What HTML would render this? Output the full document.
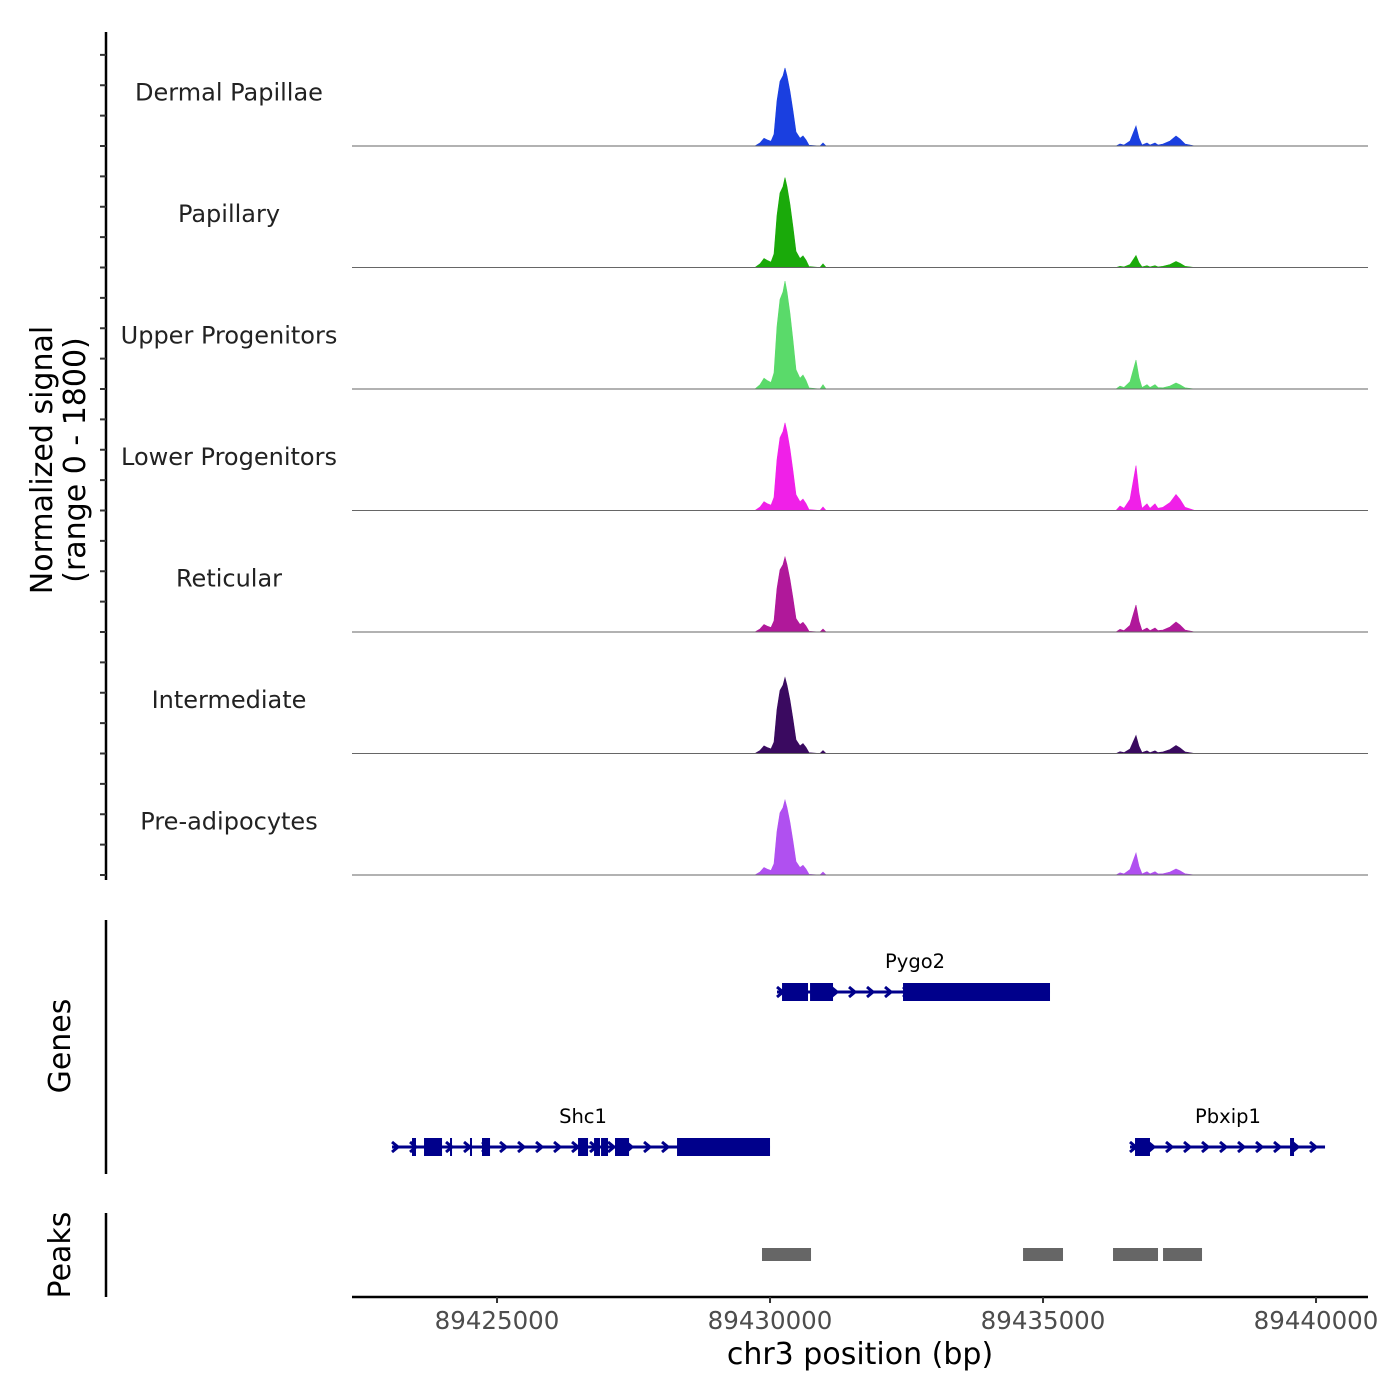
<!DOCTYPE html>
<html><head><meta charset="utf-8"><style>
body{margin:0;background:#fff}
svg{display:block;font-family:"DejaVu Sans","Liberation Sans",sans-serif}
</style></head><body>
<svg id="chart" width="1400" height="1400" viewBox="0 0 1400 1400" xmlns="http://www.w3.org/2000/svg"></svg>
<script>
// ---- data ----
const trackNames = ["Dermal Papillae","Papillary","Upper Progenitors","Lower Progenitors","Reticular","Intermediate","Pre-adipocytes"];
const trackColors = ["#1a3fe0","#1aaa0a","#5ada6a","#f020e8","#b0189a","#3a0a60","#b050f0"];
const mainAmp = [1155,1332,1600,1300,1110,1125,1110];
const sec1Amp = [296,178,430,666,400,266,326];
const sec2Amp = [148,89,89,237,148,118,89];
const mainPos = [89429725,89429817,89429890,89429945,89430018,89430073,89430128,89430183,89430238,89430275,89430311,89430366,89430421,89430476,89430549,89430604,89430659,89430714,89430916,89430971,89431026];
const mainShape = [0,0.04,0.1,0.08,0.06,0.15,0.58,0.83,0.9,1,0.9,0.7,0.45,0.18,0.1,0.13,0.08,0.01,0,0.04,0];
const secPos = [89436337,89436410,89436484,89436593,89436667,89436703,89436758,89436813,89436905,89436960,89437051,89437106,89437198,89437326,89437436,89437509,89437601,89437784];
const sec1Shape = [0,0.1,0.05,0.25,0.75,1,0.4,0.05,0.15,0.05,0.15,0.05,0,0,0,0,0,0];
const sec2Shape = [0,0,0,0,0,0,0,0,0,0,0,0,0.2,0.5,1,0.7,0.2,0];
const xTicks = [89425000,89430000,89435000,89440000];
const genes = [
 {name:"Pygo2",start:89430128,end:89435128,row:0,labelPos:89432656,exons:[[89430220,89430696],[89430733,89431154],[89432436,89435128]]},
 {name:"Shc1",start:89423077,end:89430000,row:1,labelPos:89426575,exons:[[89423443,89423516],[89423663,89423993],[89424139,89424176],[89424505,89424542],[89424725,89424872],[89426484,89426667],[89426777,89426886],[89426905,89427033],[89427161,89427418],[89428297,89430000]]},
 {name:"Pbxip1",start:89436593,end:89440165,row:1,labelPos:89438388,exons:[[89436685,89436959],[89439524,89439597]]}
];
const peaks = [[89429853,89430751],[89434634,89435366],[89436282,89437106],[89437198,89437912]];
const yMax = 1800;

// ---- scales ----
const X0=352, X1=1368, BP0=89422344, BP1=89440952;
const x = bp => X0 + (bp-BP0)/(BP1-BP0)*(X1-X0);
const trackTop=24.5, trackH=121.5;
const ns="http://www.w3.org/2000/svg";
const svg=document.getElementById("chart");
function mk(tag,attrs,parent){const e=document.createElementNS(ns,tag);for(const k in attrs)e.setAttribute(k,attrs[k]);(parent||svg).appendChild(e);return e;}

// tracks
trackNames.forEach((name,i)=>{
  const base=trackTop+trackH*(i+1);
  const y=v=>base-v/yMax*trackH;
  const g=mk("g",{});
  
  
  let d="M"+X0+","+base+" L"+x(mainPos[0])+","+base;
  mainPos.forEach((p,j)=>{d+=" L"+x(p).toFixed(1)+","+y(mainShape[j]*mainAmp[i]).toFixed(1);});
  d+=" L"+x(secPos[0]).toFixed(1)+","+base;
  secPos.forEach((p,j)=>{d+=" L"+x(p).toFixed(1)+","+y(sec1Shape[j]*sec1Amp[i]+sec2Shape[j]*sec2Amp[i]).toFixed(1);});
  d+=" L"+X1+","+base+" Z";
  const a=mk("path",{d:d,fill:trackColors[i],stroke:trackColors[i],"stroke-width":0.6},g);
  
  
  const l=mk("line",{x1:X0,x2:X1,y1:base,y2:base,stroke:"#666","stroke-width":1},g);
  
  
  const t=mk("text",{x:229,y:trackTop+trackH*i+76,"font-size":24,"text-anchor":"middle",fill:"#222"},g);
  t.textContent=name;
  
  
});

// left signal axis
const ax=mk("line",{x1:106,x2:106,y1:32,y2:880,stroke:"#000","stroke-width":2.5});


for(let k=0;k<=28;k++){const yy=trackTop+trackH*7-k*trackH/4; if(yy<40)continue;
  const tk=mk("line",{x1:100,x2:106,y1:yy,y2:yy,stroke:"#333","stroke-width":2});
  
  }
const yt=mk("text",{transform:"translate(52,460) rotate(-90)","font-size":30,"text-anchor":"middle",fill:"#000"});


yt.innerHTML='<tspan x="0" dy="0">Normalized signal</tspan><tspan x="0" dy="33">(range 0 - 1800)</tspan>';

// genes panel
const gl=mk("line",{x1:106,x2:106,y1:920,y2:1174,stroke:"#000","stroke-width":2.5});


const gt=mk("text",{transform:"translate(70,1046) rotate(-90)","font-size":30,"text-anchor":"middle",fill:"#000"});
gt.textContent="Genes";


const gcol="#00008b";
genes.forEach(gn=>{
  const gy=gn.row===0?992:1147;
  const g=mk("g",{});
  
  
  mk("line",{x1:x(gn.start),x2:x(gn.end),y1:gy,y2:gy,stroke:gcol,"stroke-width":3},g);
  for(let px=x(gn.start)+4;px<x(gn.end);px+=18){
    mk("path",{d:`M${px-4},${gy-5} L${px+2},${gy} L${px-4},${gy+5}`,fill:"none",stroke:gcol,"stroke-width":3},g);
  }
  gn.exons.forEach(e=>{
    const r=mk("rect",{x:x(e[0]),y:gy-9,width:Math.max(2,x(e[1])-x(e[0])),height:18,fill:gcol},g);
    
    
  });
  const t=mk("text",{x:x(gn.labelPos),y:gy-24,"font-size":19.5,"text-anchor":"middle",fill:"#000"},g);
  t.textContent=gn.name;
  
  
});

// peaks panel
const pl=mk("line",{x1:106,x2:106,y1:1213,y2:1297,stroke:"#000","stroke-width":2.5});


const pt=mk("text",{transform:"translate(70,1255) rotate(-90)","font-size":30,"text-anchor":"middle",fill:"#000"});
pt.textContent="Peaks";


peaks.forEach(p=>{
  const r=mk("rect",{x:x(p[0]),y:1248,width:x(p[1])-x(p[0]),height:13,fill:"#666"});
  
  
});

// x axis
const xl=mk("line",{x1:X0,x2:X1,y1:1297,y2:1297,stroke:"#000","stroke-width":2.5});


xTicks.forEach(v=>{
  const tk=mk("line",{x1:x(v),x2:x(v),y1:1297,y2:1303,stroke:"#333","stroke-width":2});
  
  
  const t=mk("text",{x:x(v),y:1329,"font-size":24.5,"text-anchor":"middle",fill:"#4d4d4d"});
  t.textContent=String(v);
  
  
});
const xt=mk("text",{x:860,y:1364,"font-size":30,"text-anchor":"middle",fill:"#000"});
xt.textContent="chr3 position (bp)";


</script>
</body></html>
